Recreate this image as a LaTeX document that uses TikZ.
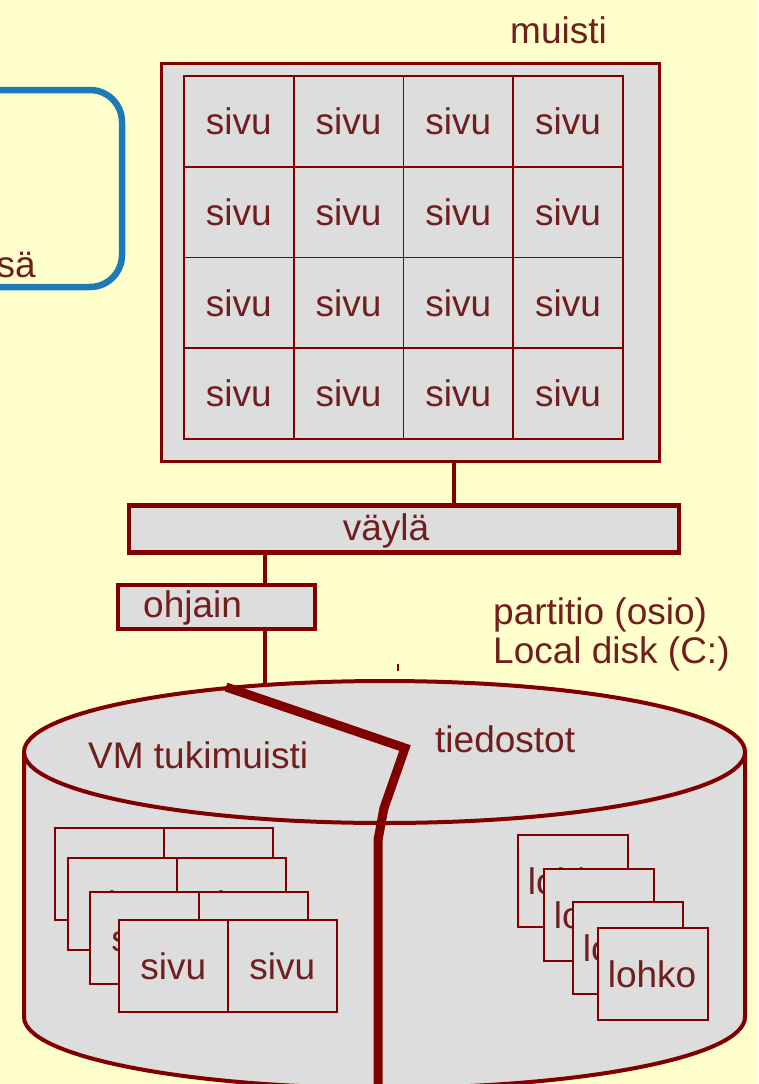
\documentclass[tikz,border=0pt]{standalone}
\usepackage{fontspec}
\setmainfont{Liberation Sans}
\definecolor{bg}{RGB}{255,255,204}
\definecolor{ln}{RGB}{128,0,0}
\definecolor{txt}{RGB}{112,30,30}
\definecolor{gr}{RGB}{221,221,221}
\definecolor{bl}{RGB}{30,122,182}
\begin{document}
\begin{tikzpicture}[x=1pt,y=-1pt,
  every node/.style={font=\fontsize{37}{40}\selectfont, text=txt, inner sep=0pt},
  cell/.style={draw=ln, line width=1.6pt, fill=gr, minimum width=109.75pt, minimum height=90.75pt},
  box/.style={draw=ln, line width=4.5pt, fill=gr},
  conn/.style={draw=ln, line width=4pt},
  pg/.style={draw=ln, line width=1.6pt, fill=gr, minimum width=109pt, minimum height=92pt},
  lk/.style={draw=ln, line width=1.6pt, fill=gr, minimum width=110pt, minimum height=92pt, text width=90pt, align=left},
  disk/.style={draw=ln, line width=4pt},
  split/.style={draw=ln, line width=9pt, line join=miter}
]
\fill[bg] (0,0) rectangle (758,1084);
\useasboundingbox (0,0) rectangle (758,1084);

% blue box (cut at left)
\draw[bl, line width=6.5pt, rounded corners=32pt] (-60,90) rectangle (122,287);
\node[anchor=base east] (sa) at (36,277) {sä};

% memory
\node[draw=ln, line width=3pt, fill=gr, minimum width=498pt, minimum height=398pt] (mem) at (410,262) {};
\node[anchor=base west] (muisti) at (510,43) {muisti};
\foreach \r in {0,...,3}
  \foreach \c in {0,...,3}
    \node[cell] (s\r\c) at ({184+109.75*(\c+0.5)},{76+90.75*(\r+0.5)}) {sivu};

% bus and controller
\node[box, minimum width=550pt, minimum height=47pt] (vayla) at (404,529) {};
\node[anchor=base] (vaylat) at (386,540) {väylä};
\node[box, minimum width=197pt, minimum height=44pt] (ohjain) at (216.5,607) {};
\node[anchor=base west] (ohjaint) at (143,617) {ohjain};

% disk
\fill[gr] (24,752) -- (24,1017) arc[start angle=180,end angle=360,x radius=360.5pt,y radius=71pt] -- (745,752) arc[start angle=0,end angle=180,x radius=360.5pt,y radius=71pt] -- cycle;
\draw[disk] (24,752) -- (24,1017) arc[start angle=180,end angle=360,x radius=360.5pt,y radius=71pt] -- (745,752);
\draw[disk] (384.5,752) ellipse[x radius=360.5pt, y radius=71pt];
\coordinate (disktop) at (265,685);
\draw[ln, line width=1.5pt] (398,664) -- (398,671);

% connectors
\coordinate (tapA) at (454,0);
\coordinate (tapB) at (265,0);
\draw[conn] (mem.south -| tapA) -- (vayla.north -| tapA);
\draw[conn] (vayla.south -| tapB) -- (ohjain.north -| tapB);
\draw[conn] (ohjain.south -| tapB) -- (disktop);

% partition line
\draw[split] (226,687) -- (405,748) -- (384,808) -- (378,840) -- (378,1095);

% labels
\node[anchor=base west] (vm) at (88,768) {VM tukimuisti};
\node[anchor=base west] (tied) at (435,752) {tiedostot};
\node[anchor=base west] (part) at (493,624) {partitio (osio)};
\node[anchor=base west] (local) at (493,663) {Local disk (C:)};

% page stacks
\foreach \i/\x/\y in {1/54/827, 2/67/857, 3/89/891, 4/118/919} {
  \node[pg, anchor=north west] (p\i a) at (\x,\y) {sivu};
  \node[pg, anchor=north west] (p\i b) at ({\x+109},\y) {sivu};
}

% block stacks
\foreach \i/\x/\y in {1/517/834, 2/543/868, 3/572/901, 4/597/927} {
  \node[lk, anchor=north west] (l\i) at (\x,\y) {lohko};
}
\end{tikzpicture}
\end{document}
